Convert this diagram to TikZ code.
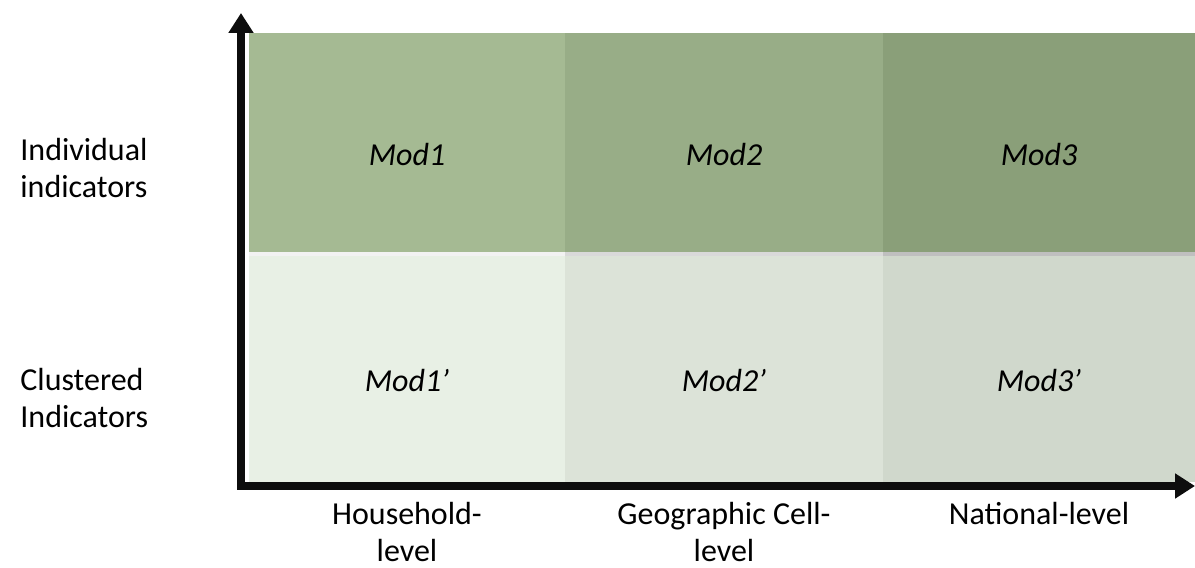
\documentclass[tikz,border=0pt]{standalone}
\usepackage{fontspec}
\setmainfont{Carlito}
\usetikzlibrary{arrows.meta,positioning}
\definecolor{hhtop}{HTML}{A5BA93}
\definecolor{geotop}{HTML}{98AD87}
\definecolor{nattop}{HTML}{8A9F79}
\definecolor{hhbot}{HTML}{E8F0E5}
\definecolor{geobot}{HTML}{DCE3D8}
\definecolor{natbot}{HTML}{D0D8CC}
\begin{document}
\begin{tikzpicture}[x=0.5pt,y=0.5pt,
    cell/.style={rectangle, inner sep=0, outer sep=0, anchor=south west, minimum width=158pt},
    toprow/.style={cell, minimum height=109.5pt},
    botrow/.style={cell, minimum height=113pt},
    sepband/.style={rectangle, inner sep=0, outer sep=0, anchor=south west, minimum width=158pt, minimum height=2pt},
    lbl/.style={inner sep=0, font=\fontsize{16}{18.5}\selectfont},
    modlbl/.style={inner sep=0, font=\fontsize{16}{18.5}\selectfont\itshape}]
    \useasboundingbox (0,0) rectangle (1195,568);

    % grid of cells
    \node (c11) [toprow, fill=hhtop] at (249,316) {};
    \node (c12) [toprow, fill=geotop, minimum width=159pt] at (565,316) {};
    \node (c13) [toprow, fill=nattop, minimum width=156pt] at (883,316) {};
    \node (s1) [sepband, fill=black!5] at (249,312) {};
    \node (s2) [sepband, fill=black!15, minimum width=159pt] at (565,312) {};
    \node (s3) [sepband, fill=black!25, minimum width=156pt] at (883,312) {};
    \node (c21) [botrow, fill=hhbot] at (249,86) {};
    \node (c22) [botrow, fill=geobot, minimum width=159pt] at (565,86) {};
    \node (c23) [botrow, fill=natbot, minimum width=156pt] at (883,86) {};

    \node (m11) [modlbl] at ([yshift=-6pt]c11.center) {Mod1};
    \node (m12) [modlbl] at ([yshift=-6pt]c12.center) {Mod2};
    \node (m13) [modlbl] at ([yshift=-6pt]c13.center) {Mod3};
    \node (m21) [modlbl] at ([yshift=-6pt]c21.center) {Mod1’};
    \node (m22) [modlbl] at ([yshift=-6pt]c22.center) {Mod2’};
    \node (m23) [modlbl] at ([yshift=-6pt]c23.center) {Mod3’};

    % axes
    \coordinate (origin) at (241,82);
    \coordinate (ytip) at (241,555);
    \coordinate (xtip) at (1195,82);
    \draw[line width=4pt, line join=miter, {Triangle[length=10pt,width=12pt]}-{Triangle[length=10pt,width=12pt]}, color=black!95] (ytip) -- (origin) -- (xtip);

    % axis labels
    \node (indiv) [lbl, align=left, anchor=west] at (20,400) {Individual\\indicators};
    \node (clust) [lbl, align=left, anchor=west] at (20,170) {Clustered\\Indicators};
    \node (hh) [lbl, align=center, anchor=north] at (407,66) {Household-\\level};
    \node (geo) [lbl, align=center, anchor=north] at (724,66) {Geographic Cell-\\level};
    \node (nat) [lbl, align=center, anchor=north] at (1039,66) {National-level};
\end{tikzpicture}
\end{document}
